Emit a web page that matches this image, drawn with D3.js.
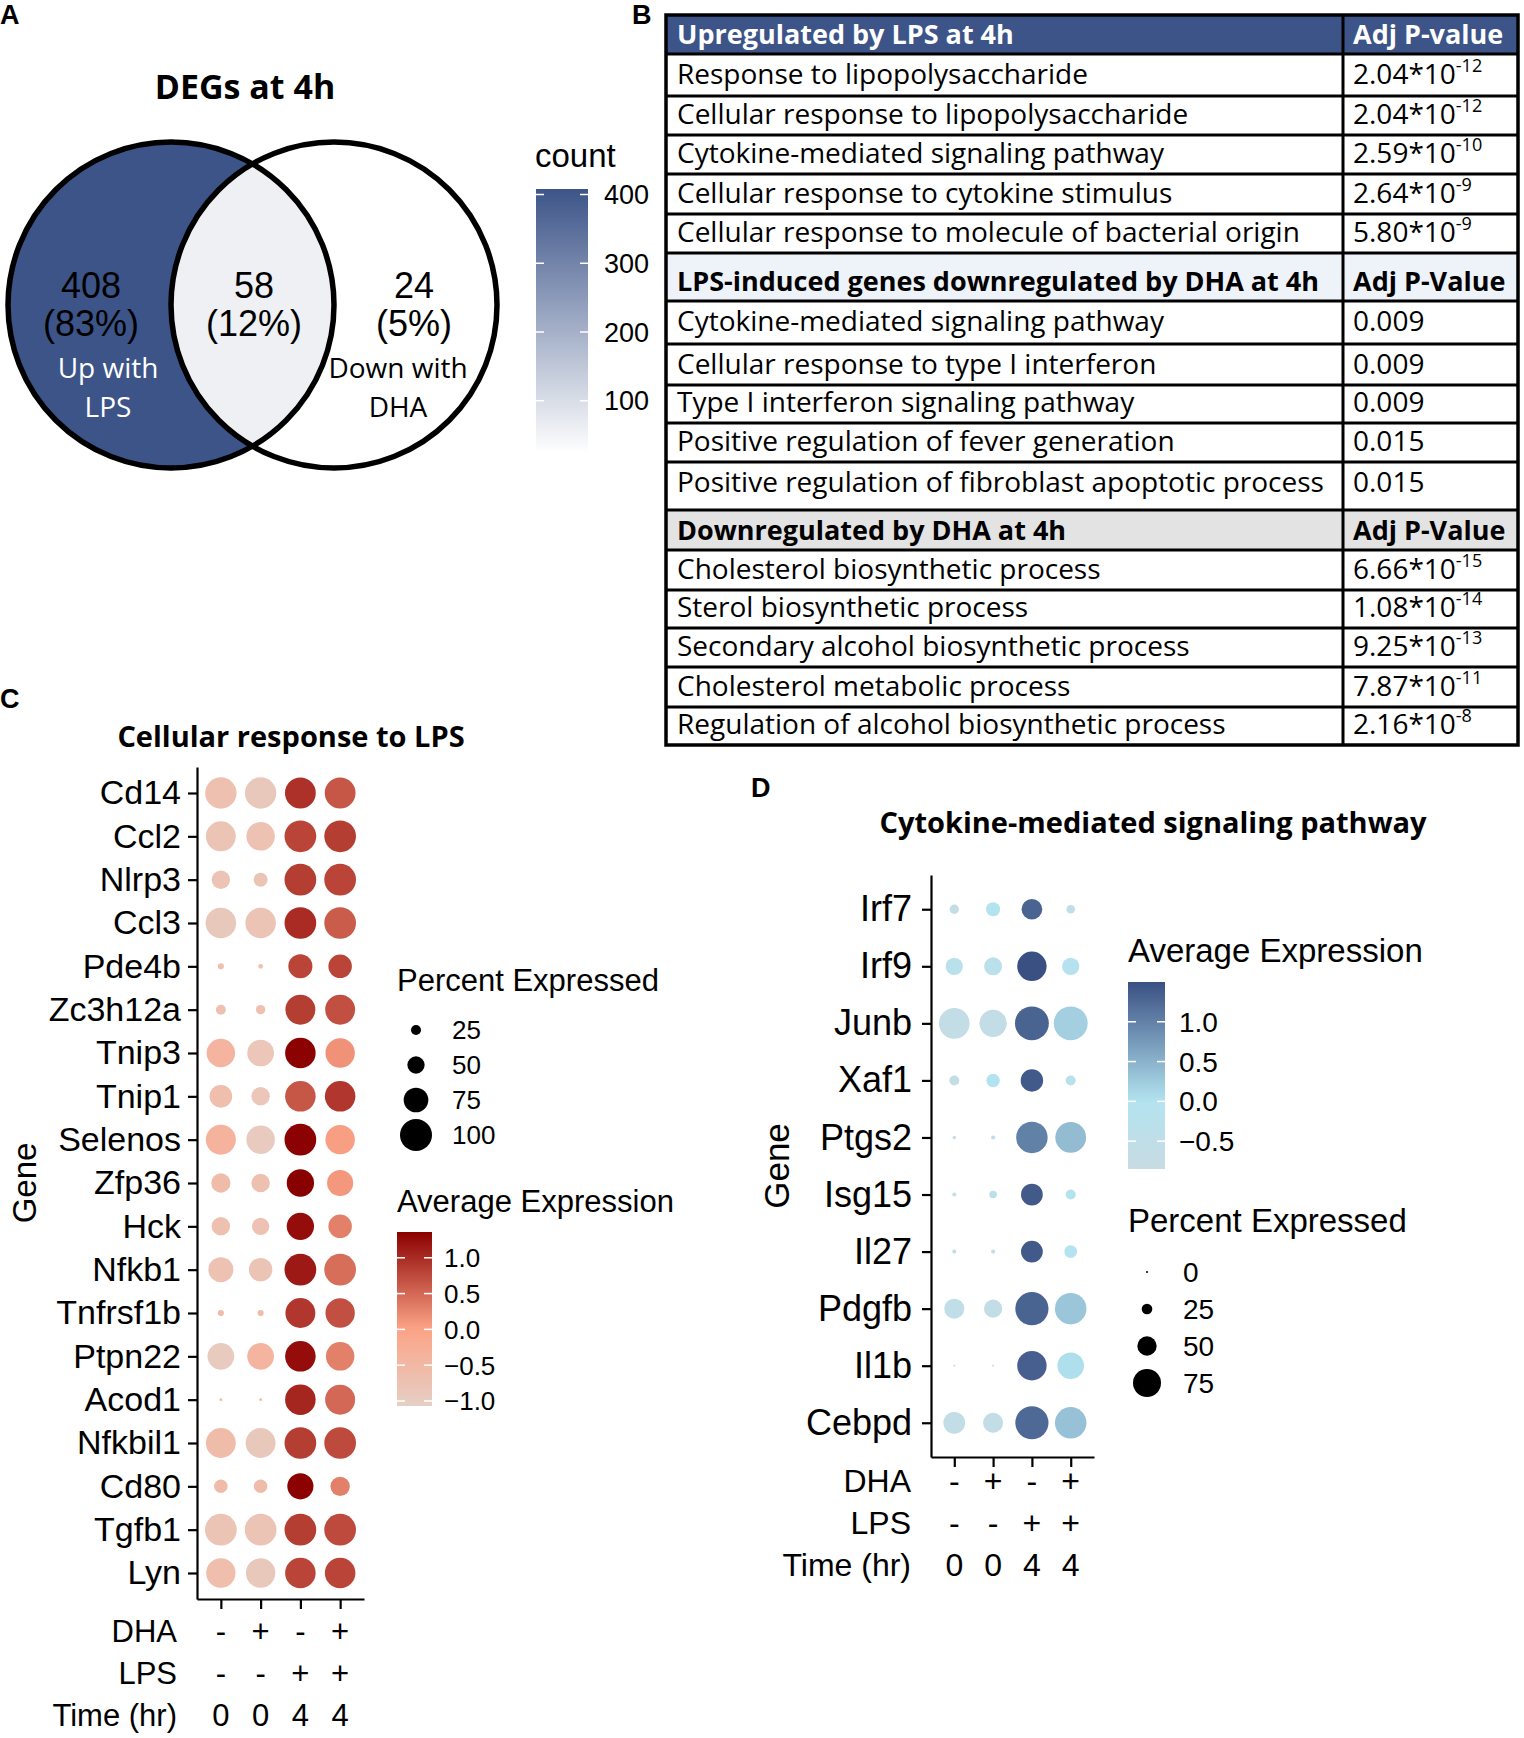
<!DOCTYPE html>
<html lang="en">

<head>
  <meta charset="UTF-8">
  <title>DEGs at 4h</title>
  <style>
    * {
      box-sizing: border-box;
    }

    body {
      margin: 0;
      background: #fff;
    }
  </style>
</head>

<body>
  <div id="main"></div>
  <script src="https://d3js.org/d3.v7.min.js"></script>
  <script>
    // 1. data
    // Venn (panel A)
    const vennCounts = [408, 58, 24]
    const vennPercents = ['83%', '12%', '5%']
    const vennNames = [['Up with', 'LPS'], ['Down with', 'DHA']]
    const countTicks = [100, 200, 300, 400]

    // GO table (panel B)
    const tableTitles = [
      ['Upregulated by LPS at 4h', 'Adj P-value'],
      ['LPS-induced genes downregulated by DHA at 4h', 'Adj P-Value'],
      ['Downregulated by DHA at 4h', 'Adj P-Value']
    ]
    const upTerms = ['Response to lipopolysaccharide', 'Cellular response to lipopolysaccharide',
      'Cytokine-mediated signaling pathway', 'Cellular response to cytokine stimulus',
      'Cellular response to molecule of bacterial origin']
    const upPvals = ['2.04*10^-12', '2.04*10^-12', '2.59*10^-10', '2.64*10^-9', '5.80*10^-9']
    const lpsDownTerms = ['Cytokine-mediated signaling pathway', 'Cellular response to type I interferon',
      'Type I interferon signaling pathway', 'Positive regulation of fever generation',
      'Positive regulation of fibroblast apoptotic process']
    const lpsDownPvals = ['0.009', '0.009', '0.009', '0.015', '0.015']
    const downTerms = ['Cholesterol biosynthetic process', 'Sterol biosynthetic process',
      'Secondary alcohol biosynthetic process', 'Cholesterol metabolic process',
      'Regulation of alcohol biosynthetic process']
    const downPvals = ['6.66*10^-15', '1.08*10^-14', '9.25*10^-13', '7.87*10^-11', '2.16*10^-8']

    // dot plots (panels C, D)
    const groups = ['ctrl', 'dha', 'lps', 'lpsdha']
    const dhaRow = ['-', '+', '-', '+']
    const lpsRow = ['-', '-', '+', '+']
    const timeRow = ['0', '0', '4', '4']

    const lpsGenes = ['Cd14', 'Ccl2', 'Nlrp3', 'Ccl3', 'Pde4b', 'Zc3h12a', 'Tnip3', 'Tnip1', 'Selenos',
      'Zfp36', 'Hck', 'Nfkb1', 'Tnfrsf1b', 'Ptpn22', 'Acod1', 'Nfkbil1', 'Cd80', 'Tgfb1', 'Lyn']
    const lpsPct = [
      [98, 98, 96, 96], [93, 88, 99, 99], [54, 39, 99, 99], [95, 95, 99, 99], [12, 7, 73, 71],
      [25, 23, 93, 93], [88, 82, 95, 91], [68, 54, 95, 95], [93, 88, 99, 91], [57, 54, 84, 80],
      [54, 50, 84, 71], [76, 71, 99, 99], [12, 12, 93, 91], [82, 82, 95, 88], [1, 1, 95, 93],
      [93, 93, 99, 99], [37, 37, 80, 57], [99, 99, 99, 99], [91, 91, 95, 95]
    ]
    const lpsAvg = [
      [-0.7, -0.9, 0.95, 0.65], [-0.8, -0.75, 0.8, 0.85], [-0.8, -0.8, 0.85, 0.8], [-0.9, -0.8, 1.0, 0.6],
      [-0.7, -0.7, 0.8, 0.8], [-0.7, -0.7, 0.85, 0.7], [-0.4, -0.85, 1.35, 0.15], [-0.65, -0.85, 0.65, 0.9],
      [-0.35, -0.95, 1.35, 0.05], [-0.6, -0.7, 1.4, 0.1], [-0.7, -0.75, 1.25, 0.3], [-0.75, -0.8, 1.15, 0.45],
      [-0.6, -0.6, 0.9, 0.7], [-0.95, -0.4, 1.25, 0.3], [-0.6, -0.6, 1.05, 0.5], [-0.6, -0.9, 0.85, 0.75],
      [-0.6, -0.6, 1.35, 0.3], [-0.8, -0.8, 0.85, 0.75], [-0.65, -0.9, 0.8, 0.8]
    ]
    const lpsPctTicks = [25, 50, 75, 100]
    const lpsAvgTicks = [-1, -0.5, 0, 0.5, 1]

    const cytGenes = ['Irf7', 'Irf9', 'Junb', 'Xaf1', 'Ptgs2', 'Isg15', 'Il27', 'Pdgfb', 'Il1b', 'Cebpd']
    const cytPct = [
      [21, 35, 54, 19], [44, 46, 79, 44], [83, 73, 92, 92], [23, 33, 59, 23], [4, 6, 85, 83],
      [6, 16, 57, 23], [6, 6, 57, 31], [52, 47, 90, 85], [0, 0, 79, 71], [57, 52, 90, 85]
    ]
    const cytAvg = [
      [-0.6, 0.0, 1.3, -0.6], [-0.3, -0.3, 1.5, -0.1], [-0.6, -0.6, 1.3, 0.2], [-0.6, 0.0, 1.4, -0.2],
      [-0.7, -0.5, 1.0, 0.4], [-0.5, -0.3, 1.4, -0.05], [-0.6, -0.6, 1.4, 0.0], [-0.5, -0.6, 1.3, 0.3],
      [-0.5, -0.5, 1.35, 0.05], [-0.6, -0.6, 1.25, 0.35]
    ]
    const cytPctTicks = [0, 25, 50, 75]
    const cytAvgTicks = [-0.5, 0, 0.5, 1]

    // 2. container
    const [width, height] = [1524, 1738]
    const SANS = "'Liberation Sans', Arial, sans-serif"
    const CAL = "'Open Sans', 'Noto Sans', sans-serif"
    const svg = d3.select('#main').append('svg')
      .attr('xmlns', 'http://www.w3.org/2000/svg')
      .attr('width', width)
      .attr('height', height)
      .attr('viewBox', `0 0 ${width} ${height}`)
    const defs = svg.append('defs')

    function txt(g, x, y, s, size, opts = {}) {
      return g.append('text')
        .attr('x', x).attr('y', y)
        .attr('font-family', opts.family || SANS)
        .attr('font-size', size)
        .attr('font-weight', opts.bold ? 'bold' : null)
        .attr('text-anchor', opts.anchor || 'start')
        .attr('fill', opts.fill || '#000')
        .text(s)
    }

    // vertical gradient bar + white ticks + labels
    function colorBar(g, id, scale, y, x0, w, ticks, labelX, labelSize, fmt) {
      const [d0, d1] = [y.domain()[0], y.domain()[y.domain().length - 1]]
      const grad = defs.append('linearGradient').attr('id', id)
        .attr('x1', 0).attr('y1', 1).attr('x2', 0).attr('y2', 0)
      d3.range(0, 1.0001, 0.05).forEach(t => {
        grad.append('stop').attr('offset', t).attr('stop-color', scale(d0 + t * (d1 - d0)))
      })
      g.append('rect').attr('x', x0).attr('y', y(d1)).attr('width', w)
        .attr('height', y(d0) - y(d1)).attr('fill', `url(#${id})`)
      ticks.forEach(v => {
        g.append('line').attr('x1', x0).attr('x2', x0 + 8).attr('y1', y(v)).attr('y2', y(v))
          .attr('stroke', '#fff').attr('stroke-width', 1.5)
        g.append('line').attr('x1', x0 + w - 8).attr('x2', x0 + w).attr('y1', y(v)).attr('y2', y(v))
          .attr('stroke', '#fff').attr('stroke-width', 1.5)
        txt(g, labelX, y(v), fmt(v), labelSize).attr('dy', '0.36em')
      })
    }

    // 3. panel A - Venn
    const gA = svg.append('g')
    txt(gA, 0, 24, 'A', 27, { bold: true })
    txt(gA, 245, 99, 'DEGs at 4h', 34, { bold: true, family: CAL, anchor: 'middle' })

    const countColor = d3.scaleLinear().domain([24, 408]).range(['#ffffff', '#3c5488'])
    const venn = { cy: 305, r: 163, cx: [171, 334] }
    defs.append('clipPath').attr('id', 'leftClip')
      .append('circle').attr('cx', venn.cx[0]).attr('cy', venn.cy).attr('r', venn.r)
    gA.append('circle').attr('cx', venn.cx[1]).attr('cy', venn.cy).attr('r', venn.r)
      .attr('fill', countColor(vennCounts[2]))
    gA.append('circle').attr('cx', venn.cx[0]).attr('cy', venn.cy).attr('r', venn.r)
      .attr('fill', countColor(vennCounts[0]))
    gA.append('circle').attr('cx', venn.cx[1]).attr('cy', venn.cy).attr('r', venn.r)
      .attr('clip-path', 'url(#leftClip)').attr('fill', countColor(vennCounts[1]))
    venn.cx.forEach(cx => {
      gA.append('circle').attr('cx', cx).attr('cy', venn.cy).attr('r', venn.r)
        .attr('fill', 'none').attr('stroke', '#000').attr('stroke-width', 5.5)
    })

    const numX = [91, 254, 414]
    vennCounts.forEach((c, i) => {
      txt(gA, numX[i], 298, c, 36, { anchor: 'middle' })
      txt(gA, numX[i], 336, `(${vennPercents[i]})`, 36, { anchor: 'middle' })
    })
    const nameX = [108, 398]
    vennNames.forEach((lines, i) => {
      lines.forEach((s, j) => {
        txt(gA, nameX[i], 378 + j * 39, s, 28, { anchor: 'middle', family: CAL, fill: i === 0 ? '#fff' : '#000' })
      })
    })

    txt(gA, 535, 167, 'count', 33)
    const countY = d3.scaleLinear().domain([24, 408]).range([453, 189])
    colorBar(gA, 'countGrad', countColor, countY, 536, 52, countTicks, 604, 27, d => d)

    // 4. panel B - table
    const gB = svg.append('g')
    txt(gB, 632, 24, 'B', 27, { bold: true })
    const sections = [
      { title: tableTitles[0], terms: upTerms, pvals: upPvals, bg: '#3c5488', fg: '#fff' },
      { title: tableTitles[1], terms: lpsDownTerms, pvals: lpsDownPvals, bg: '#eef2f9', fg: '#000' },
      { title: tableTitles[2], terms: downTerms, pvals: downPvals, bg: '#e3e3e3', fg: '#000' }
    ]
    const rowH = [39, 42, 39, 39, 40, 39, 48, 43, 41, 38, 39, 48, 40, 40, 38, 39, 40, 38]
    const tb = { x0: 666, xd: 1343, x1: 1518, y0: 15 }
    const rows = []
    sections.forEach(s => {
      rows.push({ a: s.title[0], b: s.title[1], head: true, bg: s.bg, fg: s.fg })
      s.terms.forEach((t, i) => rows.push({ a: t, b: s.pvals[i] }))
    })
    let yy = tb.y0
    rows.forEach((r, i) => { r.top = yy; r.h = rowH[i]; yy += rowH[i] })
    const tableBottom = yy

    rows.filter(r => r.head).forEach(r => {
      gB.append('rect').attr('x', tb.x0).attr('y', r.top).attr('width', tb.x1 - tb.x0)
        .attr('height', r.h).attr('fill', r.bg)
    })
    rows.forEach(r => {
      const base = r.head ? r.top + r.h - 10 : r.top + Math.min(r.h, 41) - 11
      const size = r.head ? 27 : 28
      const opts = { family: CAL, bold: !!r.head, fill: r.fg || '#000' }
      txt(gB, tb.x0 + 11, base, r.a, size, opts)
      const m = r.b.match(/^(.*)\^(.*)$/)
      if (m) {
        const t = txt(gB, tb.xd + 10, base, m[1], size, opts)
        t.append('tspan').attr('dy', -12).attr('font-size', 18).text(m[2])
      } else {
        txt(gB, tb.xd + 10, base, r.b, size, opts)
      }
    })
    rows.slice(1).forEach(r => {
      gB.append('line').attr('x1', tb.x0).attr('x2', tb.x1).attr('y1', r.top).attr('y2', r.top)
        .attr('stroke', '#000').attr('stroke-width', 3)
    })
    gB.append('line').attr('x1', tb.xd).attr('x2', tb.xd).attr('y1', tb.y0).attr('y2', tableBottom)
      .attr('stroke', '#000').attr('stroke-width', 3)
    gB.append('rect').attr('x', tb.x0).attr('y', tb.y0).attr('width', tb.x1 - tb.x0)
      .attr('height', tableBottom - tb.y0).attr('fill', 'none').attr('stroke', '#000').attr('stroke-width', 3.5)

    // 5. dot plots
    function dotPlot(cfg) {
      const g = svg.append('g')
      const x = d3.scalePoint().domain(groups).range([cfg.x0, cfg.x1]).padding(0.6)
      const y = d3.scalePoint().domain(cfg.genes).range([cfg.y0, cfg.y1]).padding(0.6)

      const cells = []
      cfg.genes.forEach((gene, i) => groups.forEach((grp, j) => {
        cells.push({ gene, grp, pct: cfg.pct[i][j], avg: cfg.avg[i][j] })
      }))
      g.selectAll('circle.dot').data(cells).join('circle')
        .attr('class', 'dot')
        .attr('cx', d => x(d.grp))
        .attr('cy', d => y(d.gene))
        .attr('r', d => cfg.r(d.pct))
        .attr('fill', d => cfg.color(d.avg))

      const yAxis = g.append('g').attr('transform', `translate(${cfg.x0},0)`)
        .call(d3.axisLeft(y).tickSize(9).tickSizeOuter(0).tickPadding(cfg.pad))
      const xAxis = g.append('g').attr('transform', `translate(0,${cfg.y1})`)
        .call(d3.axisBottom(x).tickSize(10).tickSizeOuter(0).tickFormat(''))
      ;[yAxis, xAxis].forEach(a => {
        a.selectAll('path, line').attr('stroke', '#000').attr('stroke-width', 2.2)
      })
      yAxis.selectAll('text').attr('font-family', SANS).attr('font-size', cfg.geneSize).attr('fill', '#000')

      const annot = [['DHA', dhaRow], ['LPS', lpsRow], ['Time (hr)', timeRow]]
      annot.forEach(([name, vals], k) => {
        const by = cfg.annotY + k * 42
        txt(g, cfg.x0 - 20, by, name, cfg.annotSize, { anchor: 'end' })
        vals.forEach((v, j) => txt(g, x(groups[j]), by, v, cfg.annotSize, { anchor: 'middle' }))
      })

      txt(g, cfg.titleX, cfg.titleY, cfg.title, 29, { bold: true, family: CAL, anchor: 'middle' })
      txt(g, 0, 0, 'Gene', cfg.labelSize)
        .attr('text-anchor', 'middle')
        .attr('transform', `translate(${cfg.geneX},${(cfg.y0 + cfg.y1) / 2}) rotate(-90)`)
      return g
    }

    function sizeLegend(g, lx, titleY, ticks, r, firstY, step, labelX, labelSize) {
      txt(g, lx, titleY, 'Percent Expressed', 31)
      ticks.forEach((v, i) => {
        const cy = firstY + i * step
        g.append('circle').attr('cx', lx + 19).attr('cy', cy).attr('r', r(v)).attr('fill', '#000')
        txt(g, labelX, cy, v, labelSize).attr('dy', '0.36em')
      })
    }

    // panel C
    const rC = d3.scaleLinear().domain([0, 100]).range([1.3, 16])
    const colorC = d3.scaleLinear().domain([-1.07, 0, 1.36]).range(['#e6cfc6', '#fca487', '#8b0000'])
    const gC = dotPlot({
      genes: lpsGenes, pct: lpsPct, avg: lpsAvg, r: rC, color: colorC,
      x0: 197, x1: 364, y0: 767, y1: 1599, pad: 7, geneSize: 34, labelSize: 33, annotSize: 31,
      annotY: 1642, title: 'Cellular response to LPS', titleX: 291, titleY: 747, geneX: 36
    })
    txt(gC, 0, 708, 'C', 27, { bold: true })
    sizeLegend(gC, 397, 991, lpsPctTicks, rC, 1030, 35, 452, 26)
    txt(gC, 397, 1212, 'Average Expression', 31)
    const avgYC = d3.scaleLinear().domain([-1.07, 1.36]).range([1406, 1232])
    colorBar(gC, 'gradC', colorC, avgYC, 397, 35, lpsAvgTicks, 444, 26, d3.format('.1f'))

    // panel D
    const rD = d3.scaleLinear().domain([0, 75]).range([1, 14])
    const colorD = d3.scaleLinear().domain([-0.85, 0, 1.5]).range(['#c8dbe2', '#b3e3f0', '#3a5083'])
    const gD = dotPlot({
      genes: cytGenes, pct: cytPct, avg: cytAvg, r: rD, color: colorD,
      x0: 931, x1: 1094, y0: 875, y1: 1457, pad: 10, geneSize: 36, labelSize: 35, annotSize: 32,
      annotY: 1492, title: 'Cytokine-mediated signaling pathway', titleX: 1153, titleY: 833, geneX: 789
    })
    txt(gD, 751, 797, 'D', 27, { bold: true })
    txt(gD, 1128, 962, 'Average Expression', 33)
    const avgYD = d3.scaleLinear().domain([-0.85, 1.5]).range([1169, 982])
    colorBar(gD, 'gradD', colorD, avgYD, 1128, 37, cytAvgTicks, 1179, 28, d3.format('.1f'))
    txt(gD, 1128, 1232, 'Percent Expressed', 33)
    cytPctTicks.forEach((v, i) => {
      const cy = 1272 + i * 37
      gD.append('circle').attr('cx', 1147).attr('cy', cy).attr('r', rD(v)).attr('fill', '#000')
      txt(gD, 1183, cy, v, 28).attr('dy', '0.36em')
    })
  </script>
</body>

</html>
